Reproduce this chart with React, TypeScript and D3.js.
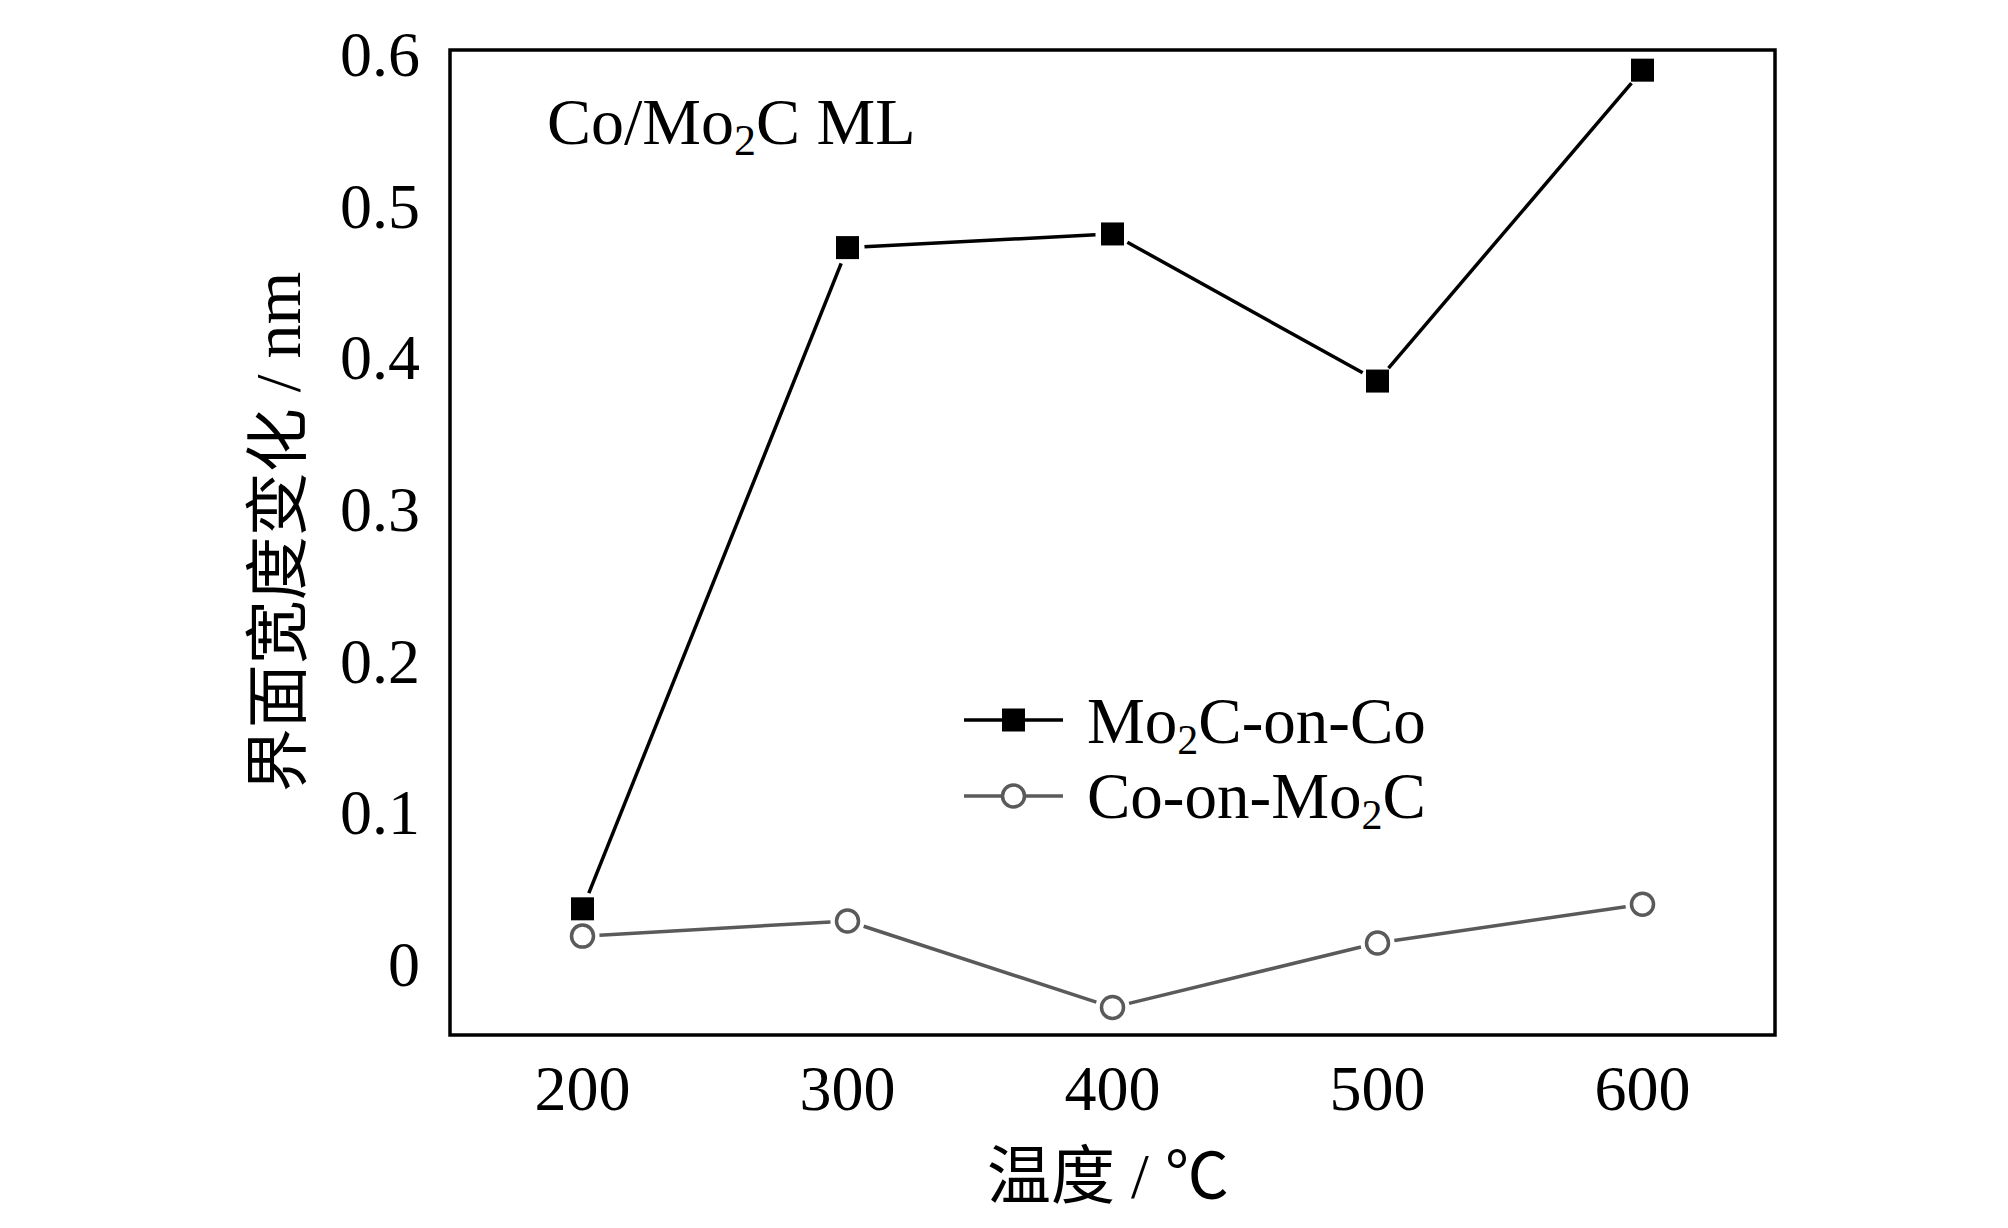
import { useEffect } from "react"
import * as d3 from "d3"

// temperatures (°C) and interface width change (nm)
const temps = [200, 300, 400, 500, 600]
const mo2cOnCo = [0.037, 0.473, 0.482, 0.385, 0.59]
const coOnMo2c = [0.019, 0.029, -0.028, 0.0145, 0.04]
const xTicks = [200, 300, 400, 500, 600]
const yTicks = [0, 0.1, 0.2, 0.3, 0.4, 0.5, 0.6]

const W = 2008
const H = 1228
const FRAME = { left: 450, right: 1775, top: 50, bottom: 1035 }
const LATIN = "'Liberation Serif', 'Times New Roman', 'Noto Sans CJK SC', serif"
const CJK = "'Liberation Serif', 'Noto Sans CJK SC', serif"
const GRAY = "#5a5a5a"

const x = d3.scaleLinear().domain([150, 650]).range([FRAME.left, FRAME.right])
const y = d3.scaleLinear().domain([-0.0462, 0.6033]).range([FRAME.bottom, FRAME.top])

// segments between markers, trimmed so a small gap shows next to each marker
function trimmedSegments(values: number[], gap: number) {
  const pts = temps.map((t, i) => [x(t), y(values[i])] as [number, number])
  return d3.pairs(pts).map(([a, b]) => {
    const dx = b[0] - a[0]
    const dy = b[1] - a[1]
    const len = Math.hypot(dx, dy)
    const ux = dx / len
    const uy = dy / len
    return {
      x1: a[0] + ux * gap,
      y1: a[1] + uy * gap,
      x2: b[0] - ux * gap,
      y2: b[1] - uy * gap,
    }
  })
}

function Mo2C({ sub = 42 }: { sub?: number }) {
  return (
    <>
      Mo<tspan fontSize={sub} dy={11}>2</tspan>
      <tspan dy={-11}>C</tspan>
    </>
  )
}

export default function App() {
  useEffect(() => {
    document.body.style.margin = "0"
  }, [])

  const fmt = (v: number) => (v === 0 ? "0" : d3.format(".1f")(v))
  const blackSegs = trimmedSegments(mo2cOnCo, 17)
  const graySegs = trimmedSegments(coOnMo2c, 17)

  return (
    <svg width={W} height={H} viewBox={`0 0 ${W} ${H}`} style={{ display: "block", background: "#fff" }}>
      <rect width={W} height={H} fill="#fff" />

      {/* frame */}
      <rect
        x={FRAME.left}
        y={FRAME.top}
        width={FRAME.right - FRAME.left}
        height={FRAME.bottom - FRAME.top}
        fill="none"
        stroke="#000"
        strokeWidth={3.5}
      />

      {/* y tick labels */}
      {yTicks.map((v) => (
        <text
          key={v}
          x={420}
          y={y(v)}
          dy="0.33em"
          textAnchor="end"
          fontFamily={LATIN}
          fontSize={64}
          fill="#000"
        >
          {fmt(v)}
        </text>
      ))}

      {/* x tick labels */}
      {xTicks.map((t) => (
        <text key={t} x={x(t)} y={1110} textAnchor="middle" fontFamily={LATIN} fontSize={64} fill="#000">
          {t}
        </text>
      ))}

      {/* axis titles */}
      <text x={1108} y={1198} textAnchor="middle" fontFamily={CJK} fontSize={64} fill="#000">
        温度 / ℃
      </text>
      <text
        transform="translate(300,532) rotate(-90)"
        textAnchor="middle"
        fontFamily={CJK}
        fontSize={64}
        fill="#000"
      >
        界面宽度变化 / <tspan fontSize={68}>nm</tspan>
      </text>

      {/* inset label */}
      <text x={547} y={144} fontFamily={LATIN} fontSize={66} fill="#000">
        Co/<Mo2C sub={44} /> ML
      </text>

      {/* Co-on-Mo2C series */}
      {graySegs.map((s, i) => (
        <line key={i} {...s} stroke={GRAY} strokeWidth={3.5} />
      ))}
      {temps.map((t, i) => (
        <circle key={t} cx={x(t)} cy={y(coOnMo2c[i])} r={11} fill="#fff" stroke={GRAY} strokeWidth={3.5} />
      ))}

      {/* Mo2C-on-Co series */}
      {blackSegs.map((s, i) => (
        <line key={i} {...s} stroke="#000" strokeWidth={3.5} />
      ))}
      {temps.map((t, i) => (
        <rect key={t} x={x(t) - 11.5} y={y(mo2cOnCo[i]) - 11.5} width={23} height={23} fill="#000" />
      ))}

      {/* legend */}
      <g>
        <line x1={964} x2={1063} y1={720} y2={720} stroke="#000" strokeWidth={3.5} />
        <rect x={1013.5 - 11.5} y={720 - 11.5} width={23} height={23} fill="#000" />
        <text x={1087} y={743} fontFamily={LATIN} fontSize={65} fill="#000">
          <Mo2C />-on-Co
        </text>
        <line x1={964} x2={1063} y1={796} y2={796} stroke={GRAY} strokeWidth={3.5} />
        <circle cx={1013.5} cy={796} r={11} fill="#fff" stroke={GRAY} strokeWidth={3.5} />
        <text x={1087} y={818} fontFamily={LATIN} fontSize={65} fill="#000">
          Co-on-<Mo2C />
        </text>
      </g>
    </svg>
  )
}
